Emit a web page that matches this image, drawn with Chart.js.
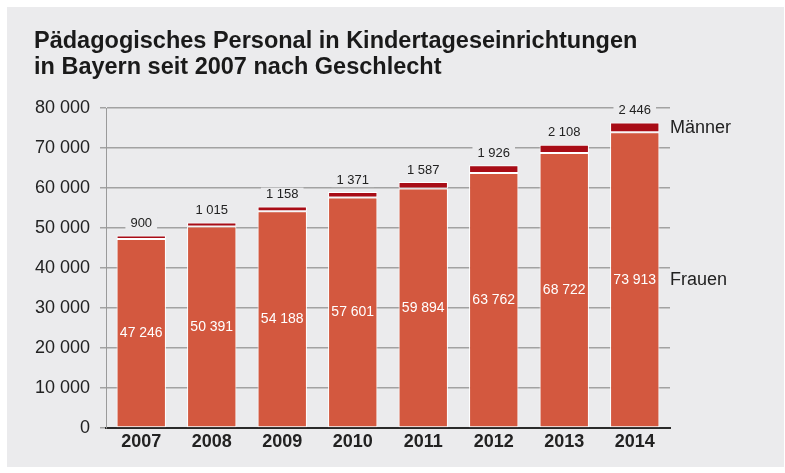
<!DOCTYPE html>
<html lang="de">
<head>
<meta charset="UTF-8">
<title>Pädagogisches Personal in Kindertageseinrichtungen</title>
<style>
  body { margin: 0; background: #fff; }
  #wrap { width: 785px; height: 473px; position: relative; }
</style>
</head>
<body>
<div id="wrap"><canvas id="chart"></canvas></div>
<script src="https://cdn.jsdelivr.net/npm/chart.js"></script>
<script>
// data
const years = ['2007', '2008', '2009', '2010', '2011', '2012', '2013', '2014'];
const frauen = [47246, 50391, 54188, 57601, 59894, 63762, 68722, 73913];
const maenner = [900, 1015, 1158, 1371, 1587, 1926, 2108, 2446];
const yTicks = [0, 10000, 20000, 30000, 40000, 50000, 60000, 70000, 80000];

const PANEL = '#ebebed';
const FONT = '"Liberation Sans", Arial, Helvetica, sans-serif';

// 47246 -> "47 246"
function fmt(v) {
  return String(v).replace(/\B(?=(\d{3})+(?!\d))/g, ' ');
}

// grey panel, title, value labels and the two series names
const decor = {
  id: 'decor',
  beforeDraw(chart) {
    const c = chart.ctx;
    c.save();
    c.fillStyle = '#fff';
    c.fillRect(0, 0, chart.width, chart.height);
    c.fillStyle = PANEL;
    c.fillRect(7, 7, 777, 460);
    c.fillStyle = '#1a1a1a';
    c.font = 'bold 23.5px ' + FONT;
    c.textBaseline = 'alphabetic';
    c.textAlign = 'left';
    c.fillText('Pädagogisches Personal in Kindertageseinrichtungen', 34, 48);
    c.fillText('in Bayern seit 2007 nach Geschlecht', 34, 74);
    c.restore();
  },
  afterDatasetsDraw(chart) {
    const c = chart.ctx;
    const fMeta = chart.getDatasetMeta(0);
    const mMeta = chart.getDatasetMeta(1);
    c.save();
    c.textAlign = 'center';
    c.textBaseline = 'middle';
    fMeta.data.forEach((bar, i) => {
      c.fillStyle = '#fff';
      c.font = '14px ' + FONT;
      c.fillText(fmt(frauen[i]), bar.x, (bar.y + bar.base) / 2);
    });
    mMeta.data.forEach((bar, i) => {
      const txt = fmt(maenner[i]);
      c.font = '13px ' + FONT;
      const w = c.measureText(txt).width;
      const y = bar.y - 12;
      c.fillStyle = PANEL;
      c.fillRect(bar.x - w / 2 - 5, y - 7, w + 10, 14);
      c.fillStyle = '#222';
      c.fillText(txt, bar.x, y);
    });
    const y = chart.scales.y;
    c.textAlign = 'left';
    c.font = '18px ' + FONT;
    c.fillStyle = '#222';
    c.fillText('Männer', 670, y.getPixelForValue(74900));
    c.fillText('Frauen', 670, y.getPixelForValue(37000));
    c.restore();
  }
};

new Chart(document.getElementById('chart'), {
  type: 'bar',
  data: {
    labels: years,
    datasets: [
      {
        label: 'Frauen',
        data: frauen,
        backgroundColor: '#d3583f',
        borderColor: '#fff',
        borderWidth: 1,
        borderSkipped: false
      },
      {
        label: 'Männer',
        data: maenner,
        backgroundColor: '#a80c16',
        borderColor: '#fff',
        borderWidth: 1,
        borderSkipped: false
      }
    ]
  },
  options: {
    responsive: true,
    maintainAspectRatio: false,
    animation: false,
    layout: { padding: { left: 0, right: 115, top: 108, bottom: 0 } },
    datasets: { bar: { categoryPercentage: 1, barPercentage: 0.7 } },
    plugins: {
      legend: { display: false },
      title: { display: false },
      tooltip: { enabled: false }
    },
    scales: {
      x: {
        stacked: true,
        afterFit(scale) { scale.height = 45; },
        grid: { display: false, drawTicks: false },
        border: { display: true, color: '#2a2a2a', width: 2 },
        ticks: {
          color: '#222',
          font: { family: FONT, size: 18, weight: 'bold' },
          padding: 3
        }
      },
      y: {
        stacked: true,
        min: 0,
        max: 80000,
        afterFit(scale) { scale.width = 106; },
        afterBuildTicks(scale) { scale.ticks = yTicks.map(v => ({ value: v })); },
        grid: {
          color: '#a2a2a2',
          lineWidth: 1.5,
          tickLength: 6,
          drawTicks: true
        },
        border: { display: true, color: '#9a9a9a', width: 1 },
        ticks: {
          color: '#222',
          font: { family: FONT, size: 18 },
          padding: 10,
          callback: v => fmt(v)
        }
      }
    }
  },
  plugins: [decor]
});
</script>
</body>
</html>
